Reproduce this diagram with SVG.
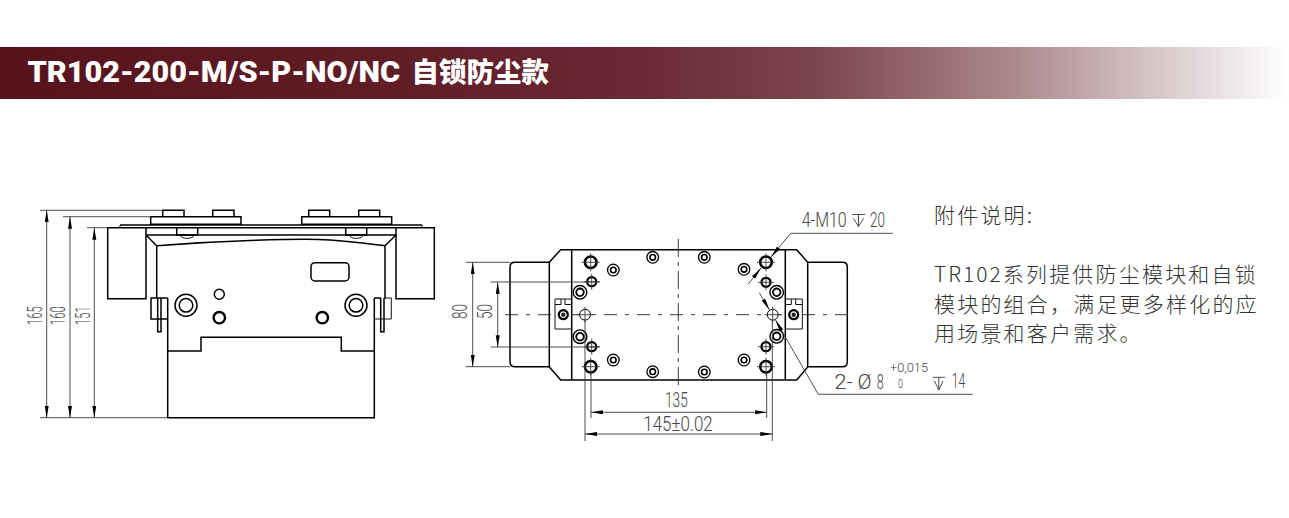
<svg xmlns="http://www.w3.org/2000/svg" xmlns:xlink="http://www.w3.org/1999/xlink" width="1289" height="518" viewBox="0 0 1289 518">
<style>
.k{fill:none;stroke:#000;stroke-width:1.5}
.m{fill:none;stroke:#111;stroke-width:1}
.t{fill:none;stroke:#3a3a3a;stroke-width:.9}
.c{fill:none;stroke:#222;stroke-width:.9}
.d{font-family:Roboto,"Liberation Sans",Arial,sans-serif;font-weight:300;font-size:20px;fill:#444}
.s{font-family:Roboto,"Liberation Sans",Arial,sans-serif;font-weight:300;font-size:12.500px;fill:#444}
.b{font-family:"Noto Sans CJK SC","Noto Sans",sans-serif;font-weight:300;font-size:21px;letter-spacing:2.2px;fill:#333}
</style>
<defs>
<linearGradient id="bar" x1="0" x2="1" y1="0" y2="0">
<stop offset="0" stop-color="#57131c"/><stop offset=".3" stop-color="#5f1d26"/><stop offset=".5" stop-color="#6a2a33"/><stop offset=".63" stop-color="#7c444c"/><stop offset=".78" stop-color="#a98589"/><stop offset=".9" stop-color="#d8c8ca"/><stop offset="1" stop-color="#fff"/>
</linearGradient>
<marker id="a" markerUnits="userSpaceOnUse" markerWidth="13" markerHeight="5" refX="12" refY="2" orient="auto-start-reverse"><path d="M0 0L12 2L0 4z" fill="#000"/></marker>
<g id="h10"><circle r="5.800" fill="#fff" stroke="#000" stroke-width="2.500"/><path d="M-9 0H9M0-9V9" class="t"/></g>
<g id="h8"><circle r="4.500" fill="#fff" stroke="#000" stroke-width="2.300"/><path d="M-8 0H8M0-8V8" class="t"/></g>
<g id="pin"><circle r="5.400" fill="#fff" stroke="#000" stroke-width="1"/><path d="M-8 0H8M0-8V8" class="t"/></g>
<g id="big"><circle r="6.800" fill="#fff" stroke="#000" stroke-width="1.400"/><circle r="3.800" fill="none" stroke="#000" stroke-width="1.800"/></g>
<g id="mid"><circle r="5.800" fill="#fff" stroke="#000" stroke-width="1.300"/><circle r="2.800" fill="none" stroke="#000" stroke-width="1.600"/></g>
<g id="lat"><circle r="4.500" fill="#fff" stroke="#000" stroke-width="2.200"/><circle r="2.200" fill="#222"/></g>
</defs>
<g id="banner">
<rect x="0" y="47" width="1289" height="52" fill="url(#bar)"/>
<text x="27.500" y="82" font-family="Roboto,'Liberation Sans',sans-serif" font-weight="900" font-size="30" fill="#fff" textLength="372.500" lengthAdjust="spacingAndGlyphs">TR102-200-M/S-P-NO/NC</text>
<text x="411.500" y="82" font-family="'Noto Sans CJK SC',sans-serif" font-weight="900" font-size="27.500" fill="#fff">自锁防尘款</text>
</g>
<g id="front-view">
<path class="k" d="M107.700 227.700H146V298.700H107.700ZM396 227.700H434.300V298.700H396Z"/>
<path class="k" d="M150.700 216.700H241V224.300H150.700ZM301.700 216.700H391.700V224.300H301.700Z"/>
<path class="k" d="M162.700 216.700V210.300H184V216.700M212.700 216.700V210.300H234V216.700M308.700 216.700V210.300H329.700V216.700M358.700 216.700V210.300H379.700V216.700"/>
<path class="k" d="M120 225H422M146 227.700H396"/>
<path class="m" d="M120 225V227.700M422 225V227.700"/>
<path class="k" d="M146 235H396M146 235L156.700 245.700C220 241 300 238 330 240C350 241.500 370 244 385 245.700L396 235M156.700 245.700V298.700M385 245.700V298.700"/>
<path class="k" d="M176.700 227.700V235H197.700V227.700M345.700 227.700V235H366.700V227.700"/>
<path class="m" d="M180 235A7.500 4.500 0 0 0 194.500 235M349 235A7.500 4.500 0 0 0 363.500 235"/>
<path class="k" d="M167.700 298V417.700H374.300V298"/>
<path class="k" d="M167.700 351H201V337.300H341.300V351H374.300"/>
<path class="k" d="M167.700 298H151V319H167.700M374.300 298H381"/>
<path class="k" d="M157.700 298V331.700H161V298M380.700 298V331.700H384V298"/>
<path class="m" d="M374.300 319H391.300V298H384"/>
<circle class="k" cx="186" cy="305.300" r="11"/><circle class="k" cx="186" cy="305.300" r="6.800"/>
<circle class="k" cx="356" cy="305.300" r="11"/><circle class="k" cx="356" cy="305.300" r="6.800"/>
<circle class="k" cx="219.300" cy="294.300" r="5"/>
<circle cx="219.300" cy="317.700" r="5.700" fill="none" stroke="#000" stroke-width="2.400"/>
<circle cx="322.300" cy="317.700" r="5.700" fill="none" stroke="#000" stroke-width="2.400"/>
<rect class="k" x="311" y="262.700" width="38" height="18.300" rx="4"/>
</g>
<g id="plan-view">
<path class="k" d="M549.300 262.300L560.700 249.700H796.700L807.700 262.300V367L796.700 380H560.700L549.300 367Z"/>
<path class="k" d="M571.700 249.700V380M785.300 249.700V380"/>
<path class="k" d="M549.300 262.300H515Q510 262.300 510 267V362Q510 366.800 515 366.800H549.300M807.700 262.300H842.500Q847.300 262.300 847.300 267V362Q847.300 366.800 842.500 366.800H807.700"/>
<path class="m" d="M555 329V299H571.700M555 304.500H561V299M565 299V304.500H571.700M555 329H571.700M785.300 299H802.300V329H785.300M785.300 304.500H791.300V299M795.700 299V304.500H802.300"/>
<path class="c" stroke-dasharray="13 8 4 8" d="M505 314.700H852"/>
<path class="c" stroke-dasharray="18 5 4 5" d="M678.300 239V390"/>
<use xlink:href="#h10" x="590.700" y="262.300"/><use xlink:href="#h10" x="590.700" y="366.700"/><use xlink:href="#h10" x="766" y="262.300"/><use xlink:href="#h10" x="766" y="366.700"/>
<use xlink:href="#h8" x="591.700" y="281.700"/><use xlink:href="#h8" x="591.700" y="346.700"/><use xlink:href="#h8" x="766" y="282.300"/><use xlink:href="#h8" x="766" y="346.700"/>
<use xlink:href="#pin" x="585" y="314.700"/><use xlink:href="#pin" x="772.700" y="314.700"/>
<use xlink:href="#big" x="580" y="292.300"/><use xlink:href="#big" x="580" y="336.700"/><use xlink:href="#big" x="776.700" y="292.300"/><use xlink:href="#big" x="776.700" y="336.300"/>
<use xlink:href="#mid" x="613.300" y="270"/><use xlink:href="#mid" x="613.300" y="360"/><use xlink:href="#mid" x="744" y="269.300"/><use xlink:href="#mid" x="744" y="360"/>
<use xlink:href="#mid" x="652.700" y="257.300"/><use xlink:href="#mid" x="652.700" y="371.700"/><use xlink:href="#mid" x="704.300" y="257.300"/><use xlink:href="#mid" x="704.300" y="372"/>
<use xlink:href="#lat" x="563.300" y="314.700"/><use xlink:href="#lat" x="793.700" y="314.700"/>
</g>
<g id="connectors">
<path class="t" d="M40 210.300H162.700M63 216.700H150.700M87 227.700H107.700M40 417.700H167.700"/>
<path class="t" d="M46.700 417.700V210.300" marker-start="url(#a)" marker-end="url(#a)"/>
<path class="t" d="M70 417.700V216.700" marker-start="url(#a)" marker-end="url(#a)"/>
<path class="t" d="M94.300 417.700V227.700" marker-start="url(#a)" marker-end="url(#a)"/>
<path class="t" d="M465.700 262.300H510M465.700 366.700H510M490.700 282H600M490.700 347H600"/>
<path class="t" d="M472.700 262.300V366.700" marker-start="url(#a)" marker-end="url(#a)"/>
<path class="t" d="M497.700 282.300V347.300" marker-start="url(#a)" marker-end="url(#a)"/>
<path class="t" d="M591 372V418M766.700 372V418M585 320V441M772.300 320V441"/>
<path class="t" d="M591 412.300H766.700" marker-start="url(#a)" marker-end="url(#a)"/>
<path class="t" d="M585 434H772.300" marker-start="url(#a)" marker-end="url(#a)"/>
<path class="t" d="M748.300 284L761 268" marker-end="url(#a)"/>
<path class="t" d="M892.700 233.300H790.700L771 257" marker-end="url(#a)"/>
<path class="t" d="M759.300 292.700L769.500 310" marker-end="url(#a)"/>
<path class="t" d="M972.700 394.300H818.300L775.500 320" marker-end="url(#a)"/>
</g>
<g id="dimension-labels">
<text class="d" transform="translate(41.700 325) rotate(-90)" textLength="18.700" lengthAdjust="spacingAndGlyphs">165</text>
<text class="d" transform="translate(64.700 325) rotate(-90)" textLength="18.700" lengthAdjust="spacingAndGlyphs">160</text>
<text class="d" transform="translate(90 325) rotate(-90)" textLength="18.700" lengthAdjust="spacingAndGlyphs">151</text>
<text class="d" transform="translate(466.700 319) rotate(-90)" textLength="15" lengthAdjust="spacingAndGlyphs">80</text>
<text class="d" transform="translate(491.700 319) rotate(-90)" textLength="15" lengthAdjust="spacingAndGlyphs">50</text>
<text class="d" x="665" y="407.300" textLength="22.700" lengthAdjust="spacingAndGlyphs">135</text>
<text class="d" x="643.300" y="430.700" textLength="69.400" lengthAdjust="spacingAndGlyphs">145±0.02</text>
<text class="d" x="801.700" y="227.300" textLength="45" lengthAdjust="spacingAndGlyphs">4-M10</text>
<path class="t" d="M852 214.500H865M853.500 218.500L858.500 226.500L863.500 218.500M858.500 214.500V226.500"/>
<text class="d" x="870" y="227.300" textLength="15" lengthAdjust="spacingAndGlyphs">20</text>
<text class="d" x="834.300" y="389.300" textLength="18.700" lengthAdjust="spacingAndGlyphs">2-</text>
<text class="d" x="857.500" y="389.300" textLength="14" lengthAdjust="spacingAndGlyphs">Ø</text>
<text class="d" x="876.700" y="389.300" textLength="7" lengthAdjust="spacingAndGlyphs">8</text>
<text class="s" x="890" y="371.500" textLength="38" lengthAdjust="spacingAndGlyphs">+0,015</text>
<text class="s" x="898" y="388.300" textLength="5" lengthAdjust="spacingAndGlyphs">0</text>
<path class="t" d="M932.700 377.300H945M934.500 381L938.800 390L943 381M938.800 377.300V390"/>
<text class="d" x="951.700" y="388.300" textLength="13.500" lengthAdjust="spacingAndGlyphs">14</text>
</g>
<g id="description">
<text class="b" x="934" y="223">附件说明:</text>
<text class="b" x="934" y="282"><tspan letter-spacing="2">TR102</tspan>系列提供防尘模块和自锁</text>
<text class="b" x="934" y="312">模块的组合，满足更多样化的应</text>
<text class="b" x="934" y="341">用场景和客户需求。</text>
</g>
</svg>
